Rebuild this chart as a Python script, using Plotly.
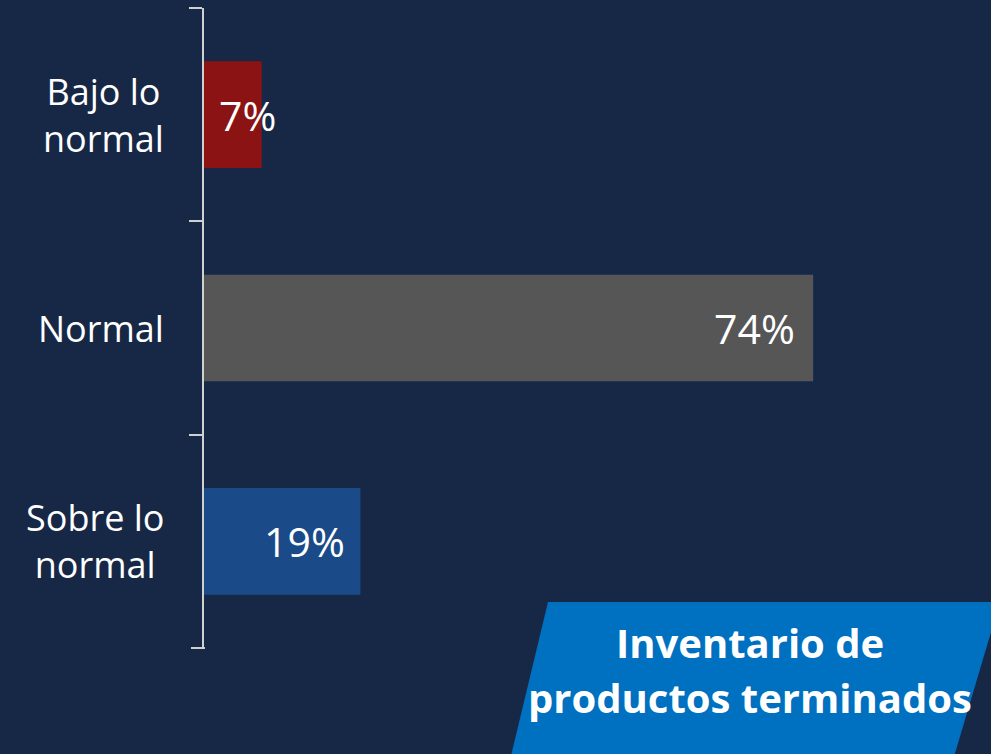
import plotly.graph_objects as go

categories = ["Bajo lo<br>normal", "Normal", "Sobre lo<br>normal"]
values = [7, 74, 19]
value_labels = ["7%", "74%", "19%"]
bar_colors = ["#8c1313", "#565656", "#1a4a87"]
label_shift = [16, -16, -13]
title_lines = ["Inventario de", "productos terminados"]

W, H = 991, 754
ML, MR, MT, MB = 204, 0, 8, 106
PW, PH = W - ML - MR, H - MT - MB

def px(x):
    return (x - ML) / PW

def py(y):
    return (H - MB - y) / PH

fig = go.Figure()
fig.add_trace(go.Bar(
    x=values, y=categories, orientation="h",
    marker=dict(color=bar_colors, line=dict(width=0)),
    width=0.5, hoverinfo="skip",
))

annotations = []
for c, v, t, s in zip(categories, values, value_labels, label_shift):
    annotations.append(dict(
        x=v, y=c, xref="x", yref="y", text=t, showarrow=False,
        xanchor="right", yanchor="middle", xshift=s,
        font=dict(family="Open Sans", size=41, color="white"),
    ))
    annotations.append(dict(
        x=0, y=c, xref="paper", yref="y", text=c, showarrow=False,
        xanchor="right", yanchor="middle", align="center", xshift=-38,
        font=dict(family="Open Sans", size=36, color="white"),
    ))

for line, yc in zip(title_lines, [642, 697]):
    annotations.append(dict(
        x=px(750), y=py(yc), xref="paper", yref="paper", text=f"<b>{line}</b>",
        showarrow=False, xanchor="center", yanchor="middle",
        font=dict(family="Open Sans", size=40, color="white"),
    ))

path = "M {} {} L {} {} L {} {} L {} {} Z".format(
    px(548), py(602), px(1000), py(602), px(953), py(760), px(510), py(760))

fig.update_layout(
    width=W, height=H,
    margin=dict(l=ML, r=MR, t=MT, b=MB, pad=0),
    paper_bgcolor="#172847", plot_bgcolor="#172847",
    showlegend=False,
    annotations=annotations,
    shapes=[
        dict(type="path", path=path, xref="paper", yref="paper",
             fillcolor="#0070c0", line=dict(width=0), layer="below"),
        dict(type="line", xref="paper", yref="paper", x0=px(191), x1=px(205),
             y0=0, y1=0, line=dict(color="#d0d0d0", width=2)),
    ],
    xaxis=dict(range=[0, 95.6], visible=False, fixedrange=True),
    yaxis=dict(
        categoryorder="array", categoryarray=categories, autorange="reversed",
        showline=True, linecolor="#d0d0d0", linewidth=2,
        ticks="outside", ticklen=13, tickwidth=2, tickcolor="#d0d0d0",
        tickson="boundaries", showticklabels=False, showgrid=False,
        zeroline=False, fixedrange=True,
    ),
)

fig.write_html(
    "out.html",
    config={"displayModeBar": False},
    post_script="document.body.style.margin='0';document.body.style.background='#172847';document.body.style.overflow='hidden';",
)
